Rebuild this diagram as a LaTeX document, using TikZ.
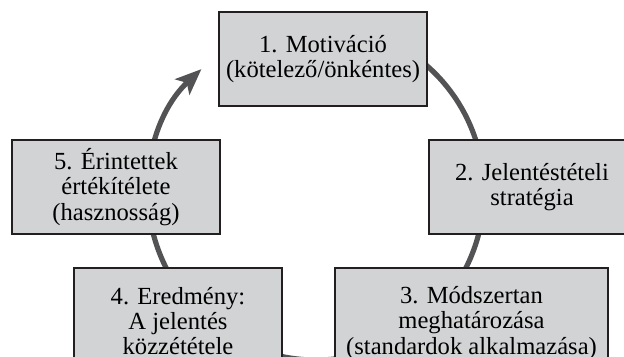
\documentclass[tikz,border=0pt]{standalone}
\usepackage{fontspec}
\setmainfont{Liberation Serif}
\usetikzlibrary{arrows.meta}
\definecolor{boxgray}{HTML}{D1D3D4}
\definecolor{arcgray}{HTML}{535355}
\definecolor{edgeblack}{HTML}{231F20}

\begin{document}
\begin{tikzpicture}[x=0.5pt,y=0.5pt,
    box/.style={draw=edgeblack,line width=1.4pt,fill=boxgray,minimum height=47pt,
      inner sep=0pt,align=center,font=\fontsize{12.3}{12.6}\selectfont},
    cyclearc/.style={draw=arcgray,line width=2.6pt,-{Stealth[length=13pt,width=10.5pt,inset=3pt]}}]
      \useasboundingbox (0,0) rectangle (624,357);
      \clip (0,0) rectangle (624,357);
      \coordinate (ctr) at (316,165);
      \draw[cyclearc] (ctr) ++(110:84pt) arc[start angle=110,end angle=-227,radius=84pt];
      \node[box,minimum width=104pt] (motiv) at (323,298) {1. Motiváció\\(kötelező/önkéntes)};
      \node[box,minimum width=103pt] (strat) at (532,170) {2. Jelentéstételi\\stratégia};
      \node[box,minimum width=136.5pt,minimum height=55pt] (modszer) at (471.5,34) {3. Módszertan\\meghatározása\\(standardok alkalmazása)};
      \node[box,minimum width=104pt,minimum height=53pt] (eredm) at (178,36) {4. Eredmény:\\A jelentés\\közzététele};
      \node[box,minimum width=104pt] (ertek) at (116,170) {5. Érintettek\\értékítélete\\(hasznosság)};
    \end{tikzpicture}
\end{document}
